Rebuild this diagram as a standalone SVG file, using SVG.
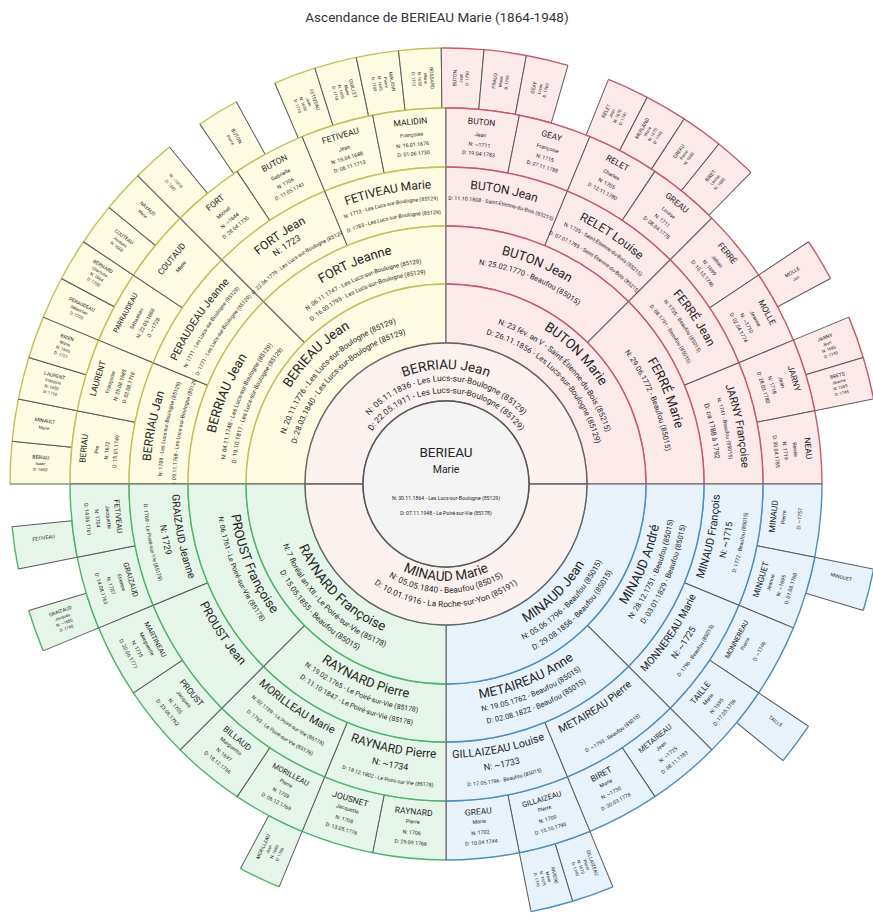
<svg xmlns="http://www.w3.org/2000/svg" xmlns:xlink="http://www.w3.org/1999/xlink" width="873" height="922" viewBox="0 0 873 922">
<style>
text{font-family:Roboto,"Liberation Sans",Arial,sans-serif;fill:#262626;text-anchor:middle}
.Y{fill:#fdfbe2;stroke:#bfc25c;stroke-width:1.4}
.P{fill:#fce9ea;stroke:#c85a6a;stroke-width:1.4}
.B{fill:#e8f2fb;stroke:#4d8fbf;stroke-width:1.4}
.G{fill:#e6f5e9;stroke:#4fb46e;stroke-width:1.4}
.h2{fill:#fbf2ef;stroke:#666;stroke-width:1.4}
.ttl{font-size:13.5px;fill:#333}
.c1{font-size:13.5px}.c2{font-size:10.5px}.c3{font-size:5.2px}
.n2{font-size:13.5px}.d2{font-size:8.3px}
.n3{font-size:13.5px}.d3{font-size:7.8px}
.n4{font-size:13px}.d4{font-size:7px}
.n5{font-size:12px}.d5{font-size:5.3px}.k5{font-size:9px}
.s6{font-size:8.5px}.t6{font-size:5.3px}
.s7{font-size:5px}.t7{font-size:4.2px}
</style>
<defs>
<g id="s3"><path stroke="none" d="M99.7,-99.7L141.42,-141.42A200,200 0 0 1 141.42,141.42L99.7,99.7A141,141 0 0 0 99.7,-99.7Z"/><path fill="none" d="M141.42,-141.42A200,200 0 0 1 141.42,141.42M99.7,-99.7A141,141 0 0 1 99.7,99.7"/><path fill="none" stroke="#5b5b5b" stroke-width="1" d="M99.7,-99.7L141.42,-141.42M99.7,99.7L141.42,141.42"/></g>
<g id="s4"><path stroke="none" d="M184.78,-76.54L238.36,-98.73A258,258 0 0 1 238.36,98.73L184.78,76.54A200,200 0 0 0 184.78,-76.54Z"/><path fill="none" d="M238.36,-98.73A258,258 0 0 1 238.36,98.73M184.78,-76.54A200,200 0 0 1 184.78,76.54"/><path fill="none" stroke="#5b5b5b" stroke-width="1" d="M184.78,-76.54L238.36,-98.73M184.78,76.54L238.36,98.73"/></g>
<g id="s5"><path stroke="none" d="M253.04,-50.33L310.91,-61.84A317,317 0 0 1 310.91,61.84L253.04,50.33A258,258 0 0 0 253.04,-50.33Z"/><path fill="none" d="M310.91,-61.84A317,317 0 0 1 310.91,61.84M253.04,-50.33A258,258 0 0 1 253.04,50.33"/><path fill="none" stroke="#5b5b5b" stroke-width="1" d="M253.04,-50.33L310.91,-61.84M253.04,50.33L310.91,61.84"/></g>
<g id="s6"><path stroke="none" d="M315.47,-31.07L374.19,-36.86A376,376 0 0 1 374.19,36.86L315.47,31.07A317,317 0 0 0 315.47,-31.07Z"/><path fill="none" d="M374.19,-36.86A376,376 0 0 1 374.19,36.86M315.47,-31.07A317,317 0 0 1 315.47,31.07"/><path fill="none" stroke="#5b5b5b" stroke-width="1" d="M315.47,-31.07L374.19,-36.86M315.47,31.07L374.19,36.86"/></g>
<g id="s7"><path stroke="none" d="M375.55,-18.45L435.48,-21.4A436,436 0 0 1 435.48,21.4L375.55,18.45A376,376 0 0 0 375.55,-18.45Z"/><path fill="none" d="M435.48,-21.4A436,436 0 0 1 435.48,21.4M375.55,-18.45A376,376 0 0 1 375.55,18.45"/><path fill="none" stroke="#5b5b5b" stroke-width="1" d="M375.55,-18.45L435.48,-21.4M375.55,18.45L435.48,21.4"/></g>
<path id="u115" d="M0,-115A115,115 0 0 1 0,115"/>
<path id="u103" d="M0,-103A103,103 0 0 1 0,103"/>
<path id="u91" d="M0,-91A91,91 0 0 1 0,91"/>
<path id="l97" d="M0,97A97,97 0 0 0 0,-97"/>
<path id="l109" d="M0,109A109,109 0 0 0 0,-109"/>
<path id="l123" d="M0,123A123,123 0 0 0 0,-123"/>
<path id="u183" d="M0,-183A183,183 0 0 1 0,183"/>
<path id="u168" d="M0,-168A168,168 0 0 1 0,168"/>
<path id="u155" d="M0,-155A155,155 0 0 1 0,155"/>
<path id="l160" d="M0,160A160,160 0 0 0 0,-160"/>
<path id="l174" d="M0,174A174,174 0 0 0 0,-174"/>
<path id="l188" d="M0,188A188,188 0 0 0 0,-188"/>
<path id="u236" d="M0,-236A236,236 0 0 1 0,236"/>
<path id="u222" d="M0,-222A222,222 0 0 1 0,222"/>
<path id="u211" d="M0,-211A211,211 0 0 1 0,211"/>
<path id="l217" d="M0,217A217,217 0 0 0 0,-217"/>
<path id="l230" d="M0,230A230,230 0 0 0 0,-230"/>
<path id="l243" d="M0,243A243,243 0 0 0 0,-243"/>
<path id="u296" d="M0,-296A296,296 0 0 1 0,296"/>
<path id="u284" d="M0,-284A284,284 0 0 1 0,284"/>
<path id="u270" d="M0,-270A270,270 0 0 1 0,270"/>
<path id="l274" d="M0,274A274,274 0 0 0 0,-274"/>
<path id="l289" d="M0,289A289,289 0 0 0 0,-289"/>
<path id="l303" d="M0,303A303,303 0 0 0 0,-303"/>
</defs>

<text class="ttl" x="437" y="22">Ascendance de BERIEAU Marie (1864-1948)</text>

<g id="chart" transform="translate(446,484)">

<!-- generation 7 -->
<g id="p64" transform="rotate(182.8125)"><use href="#s7" class="Y"/><g transform="translate(406,0) rotate(180)"><text class="s7" y="-5">BERIAU</text><text class="t7" y="1">Isaac</text><text class="t7" y="7">D: 1690</text></g></g>
<g id="p65" transform="rotate(188.4375)"><use href="#s7" class="Y"/><g transform="translate(406,0) rotate(180)"><text class="s7" y="-2">MINAULT</text><text class="t7" y="5">Marie</text></g></g>
<g id="p66" transform="rotate(194.0625)"><use href="#s7" class="Y"/><g transform="translate(406,0) rotate(180)"><text class="s7" y="-8.5">LAURENT</text><text class="t7" y="-2.5">François</text><text class="t7" y="3.5">N: 1650</text><text class="t7" y="9.5">D: 1710</text></g></g>
<g id="p67" transform="rotate(199.6875)"><use href="#s7" class="Y"/><g transform="translate(406,0) rotate(180)"><text class="s7" y="-8.5">BRIEN</text><text class="t7" y="-2.5">Marie</text><text class="t7" y="3.5">N: 1655</text><text class="t7" y="9.5">D: 1721</text></g></g>
<g id="p68" transform="rotate(205.3125)"><use href="#s7" class="Y"/><g transform="translate(406,0) rotate(180)"><text class="s7" y="-5">PERAUDEAU</text><text class="t7" y="1">Sébastien</text><text class="t7" y="7">D: 1720</text></g></g>
<g id="p69" transform="rotate(210.9375)"><use href="#s7" class="Y"/><g transform="translate(406,0) rotate(180)"><text class="s7" y="-8.5">BERNARD</text><text class="t7" y="-2.5">Charlotte</text><text class="t7" y="3.5">N: 1664</text><text class="t7" y="9.5">D: 1730</text></g></g>
<g id="p70" transform="rotate(216.5625)"><use href="#s7" class="Y"/><g transform="translate(406,0) rotate(180)"><text class="s7" y="-5">COUTEAU</text><text class="t7" y="1">Jacques</text><text class="t7" y="7">N: 1660</text></g></g>
<g id="p71" transform="rotate(222.1875)"><use href="#s7" class="Y"/><g transform="translate(406,0) rotate(180)"><text class="s7" y="-2">NAYAUD</text><text class="t7" y="5">Marie</text></g></g>
<g id="p72" transform="rotate(227.8125)"><use href="#s7" class="Y"/><g transform="translate(406,0) rotate(180)"><text class="t7" y="-2">N: ~1610</text><text class="t7" y="5">D: 1681</text></g></g>
<g id="p74" transform="rotate(238.4375)"><use href="#s7" class="Y"/><g transform="translate(406,0) rotate(180)"><text class="s7" y="-2">BUTON</text><text class="t7" y="5">Pierre</text></g></g>
<g id="p76" transform="rotate(249.6875)"><use href="#s7" class="Y"/><g transform="translate(406,0) rotate(180)"><text class="s7" y="-8.5">FETIVEAU</text><text class="t7" y="-2.5">Jean</text><text class="t7" y="3.5">N: 1650</text><text class="t7" y="9.5">D: 1710</text></g></g>
<g id="p77" transform="rotate(255.3125)"><use href="#s7" class="Y"/><g transform="translate(406,0) rotate(180)"><text class="s7" y="-8.5">GUILLET</text><text class="t7" y="-2.5">Marie</text><text class="t7" y="3.5">N: 1655</text><text class="t7" y="9.5">D: 1718</text></g></g>
<g id="p78" transform="rotate(260.9375)"><use href="#s7" class="Y"/><g transform="translate(406,0) rotate(180)"><text class="s7" y="-8.5">MALIDIN</text><text class="t7" y="-2.5">Pierre</text><text class="t7" y="3.5">N: 1645</text><text class="t7" y="9.5">D: 1709</text></g></g>
<g id="p79" transform="rotate(266.5625)"><use href="#s7" class="Y"/><g transform="translate(406,0) rotate(180)"><text class="s7" y="-8.5">BOSSARD</text><text class="t7" y="-2.5">Marie</text><text class="t7" y="3.5">N: 1650</text><text class="t7" y="9.5">D: 1712</text></g></g>
<g id="p80" transform="rotate(272.1875)"><use href="#s7" class="P"/><g transform="translate(406,0)"><text class="s7" y="-5">BUTON</text><text class="t7" y="1">Jean</text><text class="t7" y="7">D: 1750</text></g></g>
<g id="p81" transform="rotate(277.8125)"><use href="#s7" class="P"/><g transform="translate(406,0)"><text class="s7" y="-5">PRAUD</text><text class="t7" y="1">Marie</text><text class="t7" y="7">D: 1755</text></g></g>
<g id="p82" transform="rotate(283.4375)"><use href="#s7" class="P"/><g transform="translate(406,0)"><text class="s7" y="-5">GEAY</text><text class="t7" y="1">Louis</text><text class="t7" y="7">D: 1760</text></g></g>
<g id="p84" transform="rotate(294.6875)"><use href="#s7" class="P"/><g transform="translate(406,0)"><text class="s7" y="-8.5">RELET</text><text class="t7" y="-2.5">Jean</text><text class="t7" y="3.5">N: 1670</text><text class="t7" y="9.5">D: 1741</text></g></g>
<g id="p85" transform="rotate(300.3125)"><use href="#s7" class="P"/><g transform="translate(406,0)"><text class="s7" y="-8.5">MERLAND</text><text class="t7" y="-2.5">Marie</text><text class="t7" y="3.5">N: 1675</text><text class="t7" y="9.5">D: 1745</text></g></g>
<g id="p86" transform="rotate(305.9375)"><use href="#s7" class="P"/><g transform="translate(406,0)"><text class="s7" y="-5">GREAU</text><text class="t7" y="1">Pierre</text><text class="t7" y="7">N: 1680</text></g></g>
<g id="p87" transform="rotate(311.5625)"><use href="#s7" class="P"/><g transform="translate(406,0)"><text class="s7" y="-5">BIRET</text><text class="t7" y="1">Louise</text><text class="t7" y="7">N: 1685</text></g></g>
<g id="p90" transform="rotate(329.0625)"><use href="#s7" class="P"/><g transform="translate(406,0)"><text class="s7" y="-2">MOLLE</text><text class="t7" y="5">Jan</text></g></g>
<g id="p92" transform="rotate(340.3125)"><use href="#s7" class="P"/><g transform="translate(406,0)"><text class="s7" y="-8.5">JARNY</text><text class="t7" y="-2.5">Jean</text><text class="t7" y="3.5">N: 1680</text><text class="t7" y="9.5">D: 1740</text></g></g>
<g id="p93" transform="rotate(345.9375)"><use href="#s7" class="P"/><g transform="translate(406,0)"><text class="s7" y="-8.5">BRETS</text><text class="t7" y="-2.5">Jeanne</text><text class="t7" y="3.5">N: 1685</text><text class="t7" y="9.5">D: 1745</text></g></g>
<g id="p98" transform="rotate(14.0625)"><use href="#s7" class="B"/><g transform="translate(406,0)"><text class="s7" y="-4">MINGUET</text></g></g>
<g id="p102" transform="rotate(36.5625)"><use href="#s7" class="B"/><g transform="translate(406,0)"><text class="s7" y="-4">TAILLE</text></g></g>
<g id="p108" transform="rotate(70.3125)"><use href="#s7" class="B"/><g transform="translate(406,0)"><text class="s7" y="-8.5">GILLAIZEAU</text><text class="t7" y="-2.5">Pierre</text><text class="t7" y="3.5">N: 1670</text><text class="t7" y="9.5">D: 1740</text></g></g>
<g id="p109" transform="rotate(75.9375)"><use href="#s7" class="B"/><g transform="translate(406,0)"><text class="s7" y="-8.5">RIVIERE</text><text class="t7" y="-2.5">Marie</text><text class="t7" y="3.5">N: 1675</text><text class="t7" y="9.5">D: 1746</text></g></g>
<g id="p116" transform="rotate(115.3125)"><use href="#s7" class="G"/><g transform="translate(406,0) rotate(180)"><text class="s7" y="-8.5">MORILLEAU</text><text class="t7" y="-2.5">Jean</text><text class="t7" y="3.5">N: 1680</text><text class="t7" y="9.5">D: 1750</text></g></g>
<g id="p124" transform="rotate(160.3125)"><use href="#s7" class="G"/><g transform="translate(406,0) rotate(180)"><text class="s7" y="-8.5">GRAIZAUD</text><text class="t7" y="-2.5">Jacques</text><text class="t7" y="3.5">N: ~1680</text><text class="t7" y="9.5">D: 1740</text></g></g>
<g id="p126" transform="rotate(171.5625)"><use href="#s7" class="G"/><g transform="translate(406,0) rotate(180)"><text class="s7" y="-4">FETIVEAU</text></g></g>

<!-- generation 6 -->
<g id="p32" transform="rotate(185.625)"><use href="#s6" class="Y"/><g transform="rotate(90)"><text class="s6" y="-361">BERIAU</text><text class="t6" y="-349">Pre</text><text class="t6" y="-339">N: 1672</text><text class="t6" y="-330">D: 15.01.1749</text></g></g>
<g id="p33" transform="rotate(196.875)"><use href="#s6" class="Y"/><g transform="rotate(90)"><text class="s6" y="-361">LAURENT</text><text class="t6" y="-349">Françoise</text><text class="t6" y="-339">N: 25.08.1685</text><text class="t6" y="-330">D: 02.08.1718</text></g></g>
<g id="p34" transform="rotate(208.125)"><use href="#s6" class="Y"/><g transform="rotate(90)"><text class="s6" y="-361" style="font-size:7px">PARRAUDEAU</text><text class="t6" y="-349">Sébastien</text><text class="t6" y="-339">N: 22.05.1688</text><text class="t6" y="-330">D: ~1728</text></g></g>
<g id="p35" transform="rotate(219.375)"><use href="#s6" class="Y"/><g transform="rotate(90)"><text class="s6" y="-352">COUTAUD</text><text class="t6" y="-341">Marie</text></g></g>
<g id="p36" transform="rotate(230.625)"><use href="#s6" class="Y"/><g transform="rotate(90)"><text class="s6" y="-361">FORT</text><text class="t6" y="-349">Michel</text><text class="t6" y="-339">N: ~1644</text><text class="t6" y="-330">D: 28.04.1730</text></g></g>
<g id="p37" transform="rotate(241.875)"><use href="#s6" class="Y"/><g transform="rotate(90)"><text class="s6" y="-361">BUTON</text><text class="t6" y="-349">Gabrielle</text><text class="t6" y="-339">N: 1706</text><text class="t6" y="-330">D: 11.05.1741</text></g></g>
<g id="p38" transform="rotate(253.125)"><use href="#s6" class="Y"/><g transform="rotate(90)"><text class="s6" y="-361">FETIVEAU</text><text class="t6" y="-349">Jean</text><text class="t6" y="-339">N: 15.04.1688</text><text class="t6" y="-330">D: 06.11.1713</text></g></g>
<g id="p39" transform="rotate(264.375)"><use href="#s6" class="Y"/><g transform="rotate(90)"><text class="s6" y="-361">MALIDIN</text><text class="t6" y="-349">Françoise</text><text class="t6" y="-339">N: 16.01.1676</text><text class="t6" y="-330">D: 01.06.1730</text></g></g>
<g id="p40" transform="rotate(275.625)"><use href="#s6" class="P"/><g transform="rotate(90)"><text class="s6" y="-361">BUTON</text><text class="t6" y="-349">Jean</text><text class="t6" y="-339">N: ~1711</text><text class="t6" y="-330">D: 19.04.1783</text></g></g>
<g id="p41" transform="rotate(286.875)"><use href="#s6" class="P"/><g transform="rotate(90)"><text class="s6" y="-361">GEAY</text><text class="t6" y="-349">Françoise</text><text class="t6" y="-339">N: 1715</text><text class="t6" y="-330">D: 27.11.1788</text></g></g>
<g id="p42" transform="rotate(298.125)"><use href="#s6" class="P"/><g transform="rotate(90)"><text class="s6" y="-361">RELET</text><text class="t6" y="-349">Charles</text><text class="t6" y="-339">N: 1705</text><text class="t6" y="-330">D: 12.11.1780</text></g></g>
<g id="p43" transform="rotate(309.375)"><use href="#s6" class="P"/><g transform="rotate(90)"><text class="s6" y="-361">GREAU</text><text class="t6" y="-349">Louise</text><text class="t6" y="-339">N: 1711</text><text class="t6" y="-330">D: 08.04.1778</text></g></g>
<g id="p44" transform="rotate(320.625)"><use href="#s6" class="P"/><g transform="rotate(90)"><text class="s6" y="-361">FERRÉ</text><text class="t6" y="-349">Jehan</text><text class="t6" y="-339">N: 1699</text><text class="t6" y="-330">D: 10.12.1746</text></g></g>
<g id="p45" transform="rotate(331.875)"><use href="#s6" class="P"/><g transform="rotate(90)"><text class="s6" y="-361">MOLLE</text><text class="t6" y="-349">Jeanne</text><text class="t6" y="-339">N: ~1710</text><text class="t6" y="-330">D: 02.04.1774</text></g></g>
<g id="p46" transform="rotate(343.125)"><use href="#s6" class="P"/><g transform="rotate(90)"><text class="s6" y="-361">JARNY</text><text class="t6" y="-349">Jean</text><text class="t6" y="-339">N: 1718</text><text class="t6" y="-330">D: 28.03.1780</text></g></g>
<g id="p47" transform="rotate(354.375)"><use href="#s6" class="P"/><g transform="rotate(90)"><text class="s6" y="-361">NEAU</text><text class="t6" y="-349">Renée</text><text class="t6" y="-339">N: 1719</text><text class="t6" y="-330">D: 30.04.1785</text></g></g>
<g id="p48" transform="rotate(5.625)"><use href="#s6" class="B"/><g transform="rotate(-90)"><text class="s6" y="332">MINAUD</text><text class="t6" y="341">Pierre</text><text class="t6" y="357">D: ~1757</text></g></g>
<g id="p49" transform="rotate(16.875)"><use href="#s6" class="B"/><g transform="rotate(-90)"><text class="s6" y="332">MINGUET</text><text class="t6" y="341">Jeanne</text><text class="t6" y="352">N: ~1695</text><text class="t6" y="362">D: 01.08.1760</text></g></g>
<g id="p50" transform="rotate(28.125)"><use href="#s6" class="B"/><g transform="rotate(-90)"><text class="s6" y="332" style="font-size:7px">MONNEREAU</text><text class="t6" y="341">Pierre</text><text class="t6" y="357">D: ~1746</text></g></g>
<g id="p51" transform="rotate(39.375)"><use href="#s6" class="B"/><g transform="rotate(-90)"><text class="s6" y="332">TAILLE</text><text class="t6" y="341">Marie</text><text class="t6" y="352">N: 1695</text><text class="t6" y="362">D: 17.05.1756</text></g></g>
<g id="p52" transform="rotate(50.625)"><use href="#s6" class="B"/><g transform="rotate(-90)"><text class="s6" y="332" style="font-size:7.5px">METAIREAU</text><text class="t6" y="341">Jean</text><text class="t6" y="352">N: ~1725</text><text class="t6" y="362">D: 08.11.1783</text></g></g>
<g id="p53" transform="rotate(61.875)"><use href="#s6" class="B"/><g transform="rotate(-90)"><text class="s6" y="332">BIRET</text><text class="t6" y="341">Marie</text><text class="t6" y="352">N: ~1730</text><text class="t6" y="362">D: 20.03.1778</text></g></g>
<g id="p54" transform="rotate(73.125)"><use href="#s6" class="B"/><g transform="rotate(-90)"><text class="s6" y="332" style="font-size:7.5px">GILLAIZEAU</text><text class="t6" y="341">Pierre</text><text class="t6" y="352">N: 1700</text><text class="t6" y="362">D: 15.10.1790</text></g></g>
<g id="p55" transform="rotate(84.375)"><use href="#s6" class="B"/><g transform="rotate(-90)"><text class="s6" y="332">GREAU</text><text class="t6" y="341">Marie</text><text class="t6" y="352">N: 1702</text><text class="t6" y="362">D: 10.04.1744</text></g></g>
<g id="p56" transform="rotate(95.625)"><use href="#s6" class="G"/><g transform="rotate(-90)"><text class="s6" y="332">RAYNARD</text><text class="t6" y="341">Pierre</text><text class="t6" y="352">N: 1706</text><text class="t6" y="362">D: 29.09.1766</text></g></g>
<g id="p57" transform="rotate(106.875)"><use href="#s6" class="G"/><g transform="rotate(-90)"><text class="s6" y="332">JOUSNET</text><text class="t6" y="341">Jacquette</text><text class="t6" y="352">N: 1708</text><text class="t6" y="362">D: 13.05.1776</text></g></g>
<g id="p58" transform="rotate(118.125)"><use href="#s6" class="G"/><g transform="rotate(-90)"><text class="s6" y="332" style="font-size:7.5px">MORILLEAU</text><text class="t6" y="341">Pierre</text><text class="t6" y="352">N: 1709</text><text class="t6" y="362">D: 06.12.1769</text></g></g>
<g id="p59" transform="rotate(129.375)"><use href="#s6" class="G"/><g transform="rotate(-90)"><text class="s6" y="332">BILLAUD</text><text class="t6" y="341">Marguerite</text><text class="t6" y="352">N: 1697</text><text class="t6" y="362">D: 18.12.1766</text></g></g>
<g id="p60" transform="rotate(140.625)"><use href="#s6" class="G"/><g transform="rotate(-90)"><text class="s6" y="332">PROUST</text><text class="t6" y="341">Jacques</text><text class="t6" y="352">N: 1705</text><text class="t6" y="362">D: 23.06.1762</text></g></g>
<g id="p61" transform="rotate(151.875)"><use href="#s6" class="G"/><g transform="rotate(-90)"><text class="s6" y="332" style="font-size:7px">MARTINEAU</text><text class="t6" y="341">Marguerite</text><text class="t6" y="352">N: 1715</text><text class="t6" y="362">D: 20.06.1777</text></g></g>
<g id="p62" transform="rotate(163.125)"><use href="#s6" class="G"/><g transform="rotate(-90)"><text class="s6" y="332" style="font-size:7.5px">GRAIZAUD</text><text class="t6" y="341">Etienne</text><text class="t6" y="352">N: 1707</text><text class="t6" y="362">D: 14.08.1763</text></g></g>
<g id="p63" transform="rotate(174.375)"><use href="#s6" class="G"/><g transform="rotate(-90)"><text class="s6" y="332" style="font-size:7.5px">FETIVEAU</text><text class="t6" y="341">Jacquette</text><text class="t6" y="352">N: 1704</text><text class="t6" y="362">D: 14.06.1761</text></g></g>

<!-- generation 5 -->
<g id="p16" transform="rotate(191.25)"><use href="#s5" class="Y"/><text class="n5"><textPath href="#u296" startOffset="50%">BERRIAU Jan</textPath></text><text class="d5"><textPath href="#u284" startOffset="50%">N: 1709 - Les Lucs-sur-Boulogne (85129)</textPath></text><text class="d5"><textPath href="#u270" startOffset="50%">D: 09.11.1768 - Les Lucs-sur-Boulogne (85129)</textPath></text></g>
<g id="p17" transform="rotate(213.75)"><use href="#s5" class="Y"/><text class="n5" style="font-size:10.5px"><textPath href="#u296" startOffset="50%">PERAUDEAU Jeanne</textPath></text><text class="d5"><textPath href="#u284" startOffset="50%">N: 1711 - Les Lucs-sur-Boulogne (85129)</textPath></text><text class="d5"><textPath href="#u270" startOffset="50%">D: 1771 - Les Lucs-sur-Boulogne (85129)</textPath></text></g>
<g id="p18" transform="rotate(236.25)"><use href="#s5" class="Y"/><text class="n5"><textPath href="#u296" startOffset="50%">FORT Jean</textPath></text><text class="k5"><textPath href="#u284" startOffset="50%">N: 1723</textPath></text><text class="d5"><textPath href="#u270" startOffset="50%">D: 22.06.1776 - Les Lucs-sur-Boulogne (85129)</textPath></text></g>
<g id="p19" transform="rotate(258.75)"><use href="#s5" class="Y"/><text class="n5"><textPath href="#u296" startOffset="50%">FETIVEAU Marie</textPath></text><text class="d5"><textPath href="#u284" startOffset="50%">N: 1713 - Les Lucs-sur-Boulogne (85129)</textPath></text><text class="d5"><textPath href="#u270" startOffset="50%">D: 1783 - Les Lucs-sur-Boulogne (85129)</textPath></text></g>
<g id="p20" transform="rotate(281.25)"><use href="#s5" class="P"/><text class="n5"><textPath href="#u296" startOffset="50%">BUTON Jean</textPath></text><text class="d5"><textPath href="#u284" startOffset="50%">D: 11.10.1808 - Saint-Étienne-du-Bois (85215)</textPath></text></g>
<g id="p21" transform="rotate(303.75)"><use href="#s5" class="P"/><text class="n5"><textPath href="#u296" startOffset="50%">RELET Louise</textPath></text><text class="d5"><textPath href="#u284" startOffset="50%">N: 1735 - Saint-Étienne-du-Bois (85215)</textPath></text><text class="d5"><textPath href="#u270" startOffset="50%">D: 07.07.1785 - Saint-Étienne-du-Bois (85215)</textPath></text></g>
<g id="p22" transform="rotate(326.25)"><use href="#s5" class="P"/><text class="n5"><textPath href="#u296" startOffset="50%">FERRÉ Jean</textPath></text><text class="d5"><textPath href="#u284" startOffset="50%">N: 1735 - Beaufou (85015)</textPath></text><text class="d5"><textPath href="#u270" startOffset="50%">D: 08.1791 - Beaufou (85015)</textPath></text></g>
<g id="p23" transform="rotate(348.75)"><use href="#s5" class="P"/><text class="n5" style="font-size:11px"><textPath href="#u296" startOffset="50%">JARNY Françoise</textPath></text><text class="d5"><textPath href="#u284" startOffset="50%">N: 1741 - Beaufou (85015)</textPath></text><text class="d5" style="font-size:7px"><textPath href="#u270" startOffset="50%">D: ca 1788 à 1792</textPath></text></g>
<g id="p24" transform="rotate(11.25)"><use href="#s5" class="B"/><text class="n5" style="font-size:11px"><textPath href="#l274" startOffset="50%">MINAUD François</textPath></text><text class="k5"><textPath href="#l289" startOffset="50%">N: ~1715</textPath></text><text class="d5"><textPath href="#l303" startOffset="50%">D: 1772 - Beaufou (85015)</textPath></text></g>
<g id="p25" transform="rotate(33.75)"><use href="#s5" class="B"/><text class="n5" style="font-size:10.5px"><textPath href="#l274" startOffset="50%">MONNEREAU Marie</textPath></text><text class="k5"><textPath href="#l289" startOffset="50%">N: ~1725</textPath></text><text class="d5"><textPath href="#l303" startOffset="50%">D: 1796 - Beaufou (85015)</textPath></text></g>
<g id="p26" transform="rotate(56.25)"><use href="#s5" class="B"/><text class="n5" style="font-size:10.5px"><textPath href="#l274" startOffset="50%">METAIREAU Pierre</textPath></text><text class="d5"><textPath href="#l303" startOffset="50%">D: ~1793 - Beaufou (85015)</textPath></text></g>
<g id="p27" transform="rotate(78.75)"><use href="#s5" class="B"/><text class="n5" style="font-size:11px"><textPath href="#l274" startOffset="50%">GILLAIZEAU Louise</textPath></text><text class="k5"><textPath href="#l289" startOffset="50%">N: ~1733</textPath></text><text class="d5"><textPath href="#l303" startOffset="50%">D: 17.05.1786 - Beaufou (85015)</textPath></text></g>
<g id="p28" transform="rotate(101.25)"><use href="#s5" class="G"/><text class="n5"><textPath href="#l274" startOffset="50%">RAYNARD Pierre</textPath></text><text class="k5"><textPath href="#l289" startOffset="50%">N: ~1734</textPath></text><text class="d5"><textPath href="#l303" startOffset="50%">D: 18.12.1802 - Le Poiré-sur-Vie (85178)</textPath></text></g>
<g id="p29" transform="rotate(123.75)"><use href="#s5" class="G"/><text class="n5" style="font-size:11px"><textPath href="#l274" startOffset="50%">MORILLEAU Marie</textPath></text><text class="d5"><textPath href="#l289" startOffset="50%">N: 02.1739 - Le Poiré-sur-Vie (85178)</textPath></text><text class="d5"><textPath href="#l303" startOffset="50%">D: 1793 - Le Poiré-sur-Vie (85178)</textPath></text></g>
<g id="p30" transform="rotate(146.25)"><use href="#s5" class="G"/><text class="n5"><textPath href="#l274" startOffset="50%">PROUST Jean</textPath></text></g>
<g id="p31" transform="rotate(168.75)"><use href="#s5" class="G"/><text class="n5" style="font-size:10.5px"><textPath href="#l274" startOffset="50%">GRAIZAUD Jeanne</textPath></text><text class="k5"><textPath href="#l289" startOffset="50%">N: 1729</textPath></text><text class="d5"><textPath href="#l303" startOffset="50%">D: 1769 - Le Poiré-sur-Vie (85178)</textPath></text></g>

<!-- generation 4 -->
<g id="p8" transform="rotate(202.5)"><use href="#s4" class="Y"/><text class="n4"><textPath href="#u236" startOffset="50%">BERRIAU Jean</textPath></text><text class="d4" style="font-size:6px"><textPath href="#u222" startOffset="50%">N: 04.11.1748 - Les Lucs-sur-Boulogne (85129)</textPath></text><text class="d4" style="font-size:6px"><textPath href="#u211" startOffset="50%">D: 19.10.1817 - Les Lucs-sur-Boulogne (85129)</textPath></text></g>
<g id="p9" transform="rotate(247.5)"><use href="#s4" class="Y"/><text class="n4"><textPath href="#u236" startOffset="50%">FORT Jeanne</textPath></text><text class="d4" style="font-size:6px"><textPath href="#u222" startOffset="50%">N: 06.11.1747 - Les Lucs-sur-Boulogne (85129)</textPath></text><text class="d4" style="font-size:6px"><textPath href="#u211" startOffset="50%">D: 16.03.1795 - Les Lucs-sur-Boulogne (85129)</textPath></text></g>
<g id="p10" transform="rotate(292.5)"><use href="#s4" class="P"/><text class="n4"><textPath href="#u236" startOffset="50%">BUTON Jean</textPath></text><text class="d4" style="font-size:7.5px"><textPath href="#u222" startOffset="50%">N: 25.02.1770 - Beaufou (85015)</textPath></text></g>
<g id="p11" transform="rotate(337.5)"><use href="#s4" class="P"/><text class="n4"><textPath href="#u236" startOffset="50%">FERRÉ Marie</textPath></text><text class="d4" style="font-size:7.5px"><textPath href="#u222" startOffset="50%">N: 29.06.1772 - Beaufou (85015)</textPath></text></g>
<g id="p12" transform="rotate(22.5)"><use href="#s4" class="B"/><text class="n4"><textPath href="#l217" startOffset="50%">MINAUD André</textPath></text><text class="d4" style="font-size:7.5px"><textPath href="#l230" startOffset="50%">N: 28.12.1751 - Beaufou (85015)</textPath></text><text class="d4" style="font-size:7.5px"><textPath href="#l243" startOffset="50%">D: 03.01.1829 - Beaufou (85015)</textPath></text></g>
<g id="p13" transform="rotate(67.5)"><use href="#s4" class="B"/><text class="n4"><textPath href="#l217" startOffset="50%">METAIREAU Anne</textPath></text><text class="d4" style="font-size:7.5px"><textPath href="#l230" startOffset="50%">N: 19.05.1762 - Beaufou (85015)</textPath></text><text class="d4" style="font-size:7.5px"><textPath href="#l243" startOffset="50%">D: 02.08.1822 - Beaufou (85015)</textPath></text></g>
<g id="p14" transform="rotate(112.5)"><use href="#s4" class="G"/><text class="n4"><textPath href="#l217" startOffset="50%">RAYNARD Pierre</textPath></text><text class="d4"><textPath href="#l230" startOffset="50%">N: 19.02.1765 - Le Poiré-sur-Vie (85178)</textPath></text><text class="d4"><textPath href="#l243" startOffset="50%">D: 11.10.1847 - Le Poiré-sur-Vie (85178)</textPath></text></g>
<g id="p15" transform="rotate(157.5)"><use href="#s4" class="G"/><text class="n4"><textPath href="#l217" startOffset="50%">PROUST Françoise</textPath></text><text class="d4"><textPath href="#l230" startOffset="50%">N: 06.1761 - Le Poiré-sur-Vie (85178)</textPath></text></g>

<!-- generation 3 -->
<g id="p4" transform="rotate(225)"><use href="#s3" class="Y"/><text class="n3"><textPath href="#u183" startOffset="50%">BERIEAU Jean</textPath></text><text class="d3"><textPath href="#u168" startOffset="50%">N: 20.11.1776 - Les Lucs-sur-Boulogne (85129)</textPath></text><text class="d3"><textPath href="#u155" startOffset="50%">D: 28.03.1840 - Les Lucs-sur-Boulogne (85129)</textPath></text></g>
<g id="p5" transform="rotate(315)"><use href="#s3" class="P"/><text class="n3"><textPath href="#u183" startOffset="50%">BUTON Marie</textPath></text><text class="d3"><textPath href="#u168" startOffset="50%">N: 23 fév. an V - Saint-Étienne-du-Bois (85215)</textPath></text><text class="d3"><textPath href="#u155" startOffset="50%">D: 26.11.1856 - Les Lucs-sur-Boulogne (85129)</textPath></text></g>
<g id="p6" transform="rotate(45)"><use href="#s3" class="B"/><text class="n3"><textPath href="#l160" startOffset="50%">MINAUD Jean</textPath></text><text class="d3"><textPath href="#l174" startOffset="50%">N: 05.06.1796 - Beaufou (85015)</textPath></text><text class="d3"><textPath href="#l188" startOffset="50%">D: 29.08.1856 - Beaufou (85015)</textPath></text></g>
<g id="p7" transform="rotate(135)"><use href="#s3" class="G"/><text class="n3"><textPath href="#l160" startOffset="50%">RAYNARD Françoise</textPath></text><text class="d3"><textPath href="#l174" startOffset="50%">N: 7 floréal an XII - Le Poiré-sur-Vie (85178)</textPath></text><text class="d3"><textPath href="#l188" startOffset="50%">D: 15.05.1855 - Beaufou (85015)</textPath></text></g>

<!-- generation 2 -->
<g id="p2"><path class="h2" d="M-141,0A141,141 0 0 1 141,0L83,0A83,83 0 0 0 -83,0Z"/><g transform="rotate(270)"><text class="n2"><textPath href="#u115" startOffset="50%">BERRIAU Jean</textPath></text><text class="d2"><textPath href="#u103" startOffset="50%">N: 05.11.1836 - Les Lucs-sur-Boulogne (85129)</textPath></text><text class="d2"><textPath href="#u91" startOffset="50%">D: 22.05.1911 - Les Lucs-sur-Boulogne (85129)</textPath></text></g></g>
<g id="p3"><path class="h2" d="M141,0A141,141 0 0 1 -141,0L-83,0A83,83 0 0 0 83,0Z"/><g transform="rotate(90)"><text class="n2"><textPath href="#l97" startOffset="50%">MINAUD Marie</textPath></text><text class="d2"><textPath href="#l109" startOffset="50%">N: 05.05.1840 - Beaufou (85015)</textPath></text><text class="d2"><textPath href="#l123" startOffset="50%">D: 10.01.1916 - La Roche-sur-Yon (85191)</textPath></text></g></g>

<!-- root -->
<g id="p1"><circle r="83" fill="#f3f3f3" stroke="#555" stroke-width="1.5"/><text class="c1" y="-27">BERIEAU</text><text class="c2" y="-11">Marie</text><text class="c3" y="16">N: 30.11.1864 - Les Lucs-sur-Boulogne (85129)</text><text class="c3" y="31">D: 07.11.1948 - Le Poiré-sur-Vie (85178)</text></g>
</g>
</svg>
